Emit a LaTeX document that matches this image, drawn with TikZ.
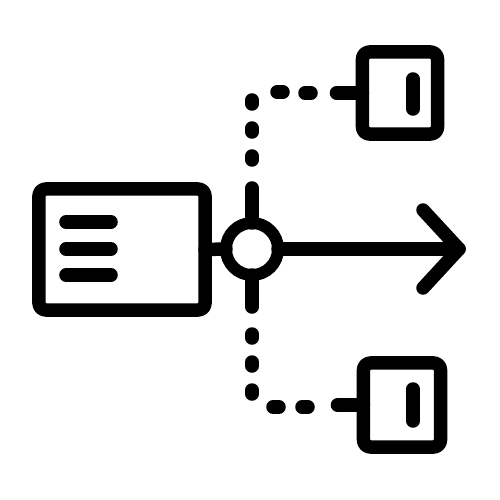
\documentclass[tikz,border=0pt]{standalone}
\usetikzlibrary{positioning}
\tikzset{
  icon/.style={line width=0.135cm, line cap=round, line join=round},
  box/.style={icon, draw, rectangle, rounded corners=0.07cm, inner sep=0pt, outer sep=0pt},
}
\begin{document}
\begin{tikzpicture}[x=0.01cm, y=-0.01cm]
  \useasboundingbox (0,0) rectangle (500,500);
  % The card on the left and its three text lines
  \node [box, minimum width=1.66cm, minimum height=1.21cm] (card) at (122,249.5) {};
  \foreach \y in {222,249,275} {
    \draw [icon] (66,\y) -- (111,\y);
  }
  % The hub where the flow splits
  \node [icon, draw, circle, minimum size=0.52cm, inner sep=0pt, outer sep=0pt,
         line width=0.12cm] (hub) at (252,249) {};
  % The two boxes on the right, each with its bar
  \node [box, minimum width=0.75cm, minimum height=0.82cm] (topbox) at (400,93) {};
  \node [box, minimum width=0.77cm, minimum height=0.84cm] (botbox) at (402,405) {};
  \draw [icon] (topbox.center) ++(13,-14) -- ++(0,30);
  \draw [icon] (botbox.center) ++(11,-16) -- ++(0,32);

  \draw [icon] (card.east) -- (hub.west);
  \draw [icon] (hub.north) -- ++(0,-35);
  \draw [icon] (hub.south) -- ++(0,32);
  % The arrow going on to the right
  \coordinate (tip) at (459,249);
  \draw [icon] (hub.east) -- (tip);
  \draw [icon] (tip) ++(-36,-39) -- (tip) -- ++(-36,39);

  % Dotted links up and down to the boxes
  \draw [icon] (topbox.west) -- ++(-26,0);
  \draw [icon] (botbox.west) -- ++(-26,0);
  \foreach \x/\y in {308/93, 280/92, 305/407, 276/407} {
    \draw [icon] (\x-3,\y) -- (\x+3,\y);
  }
  \foreach \y in {102, 130, 158, 336, 364, 392} {
    \draw [icon] (252,\y-2) -- (252,\y+2);
  }
\end{tikzpicture}
\end{document}
